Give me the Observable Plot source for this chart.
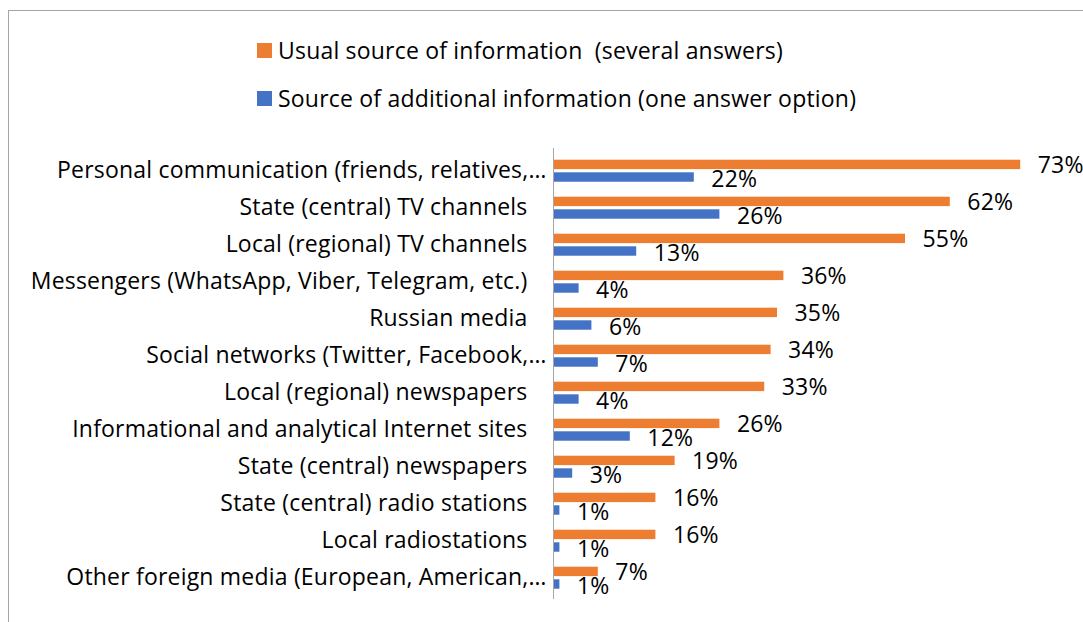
<!DOCTYPE html>
<html>
<head>
<meta charset="utf-8">
<script src="https://cdn.jsdelivr.net/npm/d3@7"></script>
<script src="https://cdn.jsdelivr.net/npm/@observablehq/plot@0.6"></script>
<style>
  html, body { margin: 0; padding: 0; background: #fff; overflow: hidden; width: 1083px; height: 622px; }
  body { position: relative; font-family: "Open Sans", Lato, sans-serif; color: #000; }
  #frame { position: absolute; left: 8px; top: 10px; width: 1120px; height: 700px; border: 1px solid #a6a6a6; box-sizing: border-box; }
  #legend { position: absolute; left: 257px; top: 0; }
  .item { position: absolute; left: 0; white-space: pre; font-size: 23px; letter-spacing: 0.2px; line-height: 24px; }
  .swatch { position: absolute; left: 0; width: 15px; height: 15px; }
  .label { position: absolute; left: 21px; }
  #chart { position: absolute; left: 0; top: 120px; line-height: 0; }
  #chart svg { display: block; }
  #chart svg text { letter-spacing: 0.2px; }
</style>
</head>
<body>
<div id="frame"></div>
<div id="legend"></div>
<div id="chart"></div>
<script>
// Survey: where respondents get their information
const categories = [
  "Personal communication (friends, relatives,…",
  "State (central) TV channels",
  "Local (regional) TV channels",
  "Messengers (WhatsApp, Viber, Telegram, etc.)",
  "Russian media",
  "Social networks (Twitter, Facebook,…",
  "Local (regional) newspapers",
  "Informational and analytical Internet sites",
  "State (central) newspapers",
  "State (central) radio stations",
  "Local radiostations",
  "Other foreign media (European, American,…"
];
const usualSource = [73, 62, 55, 36, 35, 34, 33, 26, 19, 16, 16, 7];
const additionalSource = [22, 26, 13, 4, 6, 7, 4, 12, 3, 1, 1, 1];
const seriesNames = [
  "Usual source of information  (several answers)",
  "Source of additional information (one answer option)"
];
const seriesColors = ["#ED7D31", "#4472C4"];

const usualRows = categories.map((c, i) => ({category: c, series: seriesNames[0], value: usualSource[i]}));
const additionalRows = categories.map((c, i) => ({category: c, series: seriesNames[1], value: additionalSource[i]}));

// Legend (stacked, above the plot)
const legend = document.getElementById("legend");
seriesNames.forEach((name, i) => {
  const item = document.createElement("div");
  item.className = "item";
  item.style.top = (43 + i * 48) + "px";
  const sw = document.createElement("div");
  sw.className = "swatch";
  sw.style.background = seriesColors[i];
  const lab = document.createElement("div");
  lab.className = "label";
  lab.style.top = "-5px";
  lab.textContent = name;
  item.append(sw, lab);
  legend.append(item);
});

const font = 23;
const height = 502, marginTop = 28, marginBottom = 23;
const band = (height - marginTop - marginBottom) / categories.length;
// each category band holds two bars, 10px tall with a small gap
const barTop = [7.7, 20.3], barH = 10;
const truncated = c => c.endsWith("…");

const barOpts = (k) => ({
  y: "category", x: "value", fill: "series",
  insetTop: barTop[k], insetBottom: band - barTop[k] - barH
});
const labelOpts = (k, dyExtra) => ({
  y: "category", x: "value",
  text: d => d.value + "%",
  textAnchor: "start", dx: 17,
  dy: barTop[k] + barH / 2 - band / 2 + dyExtra,
  fill: "#000", fontSize: font
});

const chart = Plot.plot({
  width: 1083,
  height,
  marginLeft: 553,
  marginRight: 18,
  marginTop,
  marginBottom,
  style: {fontFamily: "'Open Sans', Lato, sans-serif", fontSize: font + "px", color: "#000", background: "transparent"},
  x: {domain: [0, 80], axis: null},
  y: {domain: categories, padding: 0, axis: null},
  color: {domain: seriesNames, range: seriesColors},
  marks: [
    Plot.barX(usualRows, barOpts(0)),
    Plot.barX(additionalRows, barOpts(1)),
    Plot.ruleX([0], {stroke: "#a6a6a6", strokeWidth: 1}),
    Plot.text(usualRows, labelOpts(0, 1)),
    Plot.text(additionalRows, labelOpts(1, 2)),
    Plot.text(categories.filter(c => !truncated(c)), {
      y: d => d, text: d => d, frameAnchor: "left",
      textAnchor: "end", dx: -26, fill: "#000", fontSize: font
    }),
    Plot.text(categories.filter(truncated), {
      y: d => d, text: d => d, frameAnchor: "left",
      textAnchor: "end", dx: -7, fill: "#000", fontSize: font
    })
  ]
});
document.getElementById("chart").append(chart);
</script>
</body>
</html>
